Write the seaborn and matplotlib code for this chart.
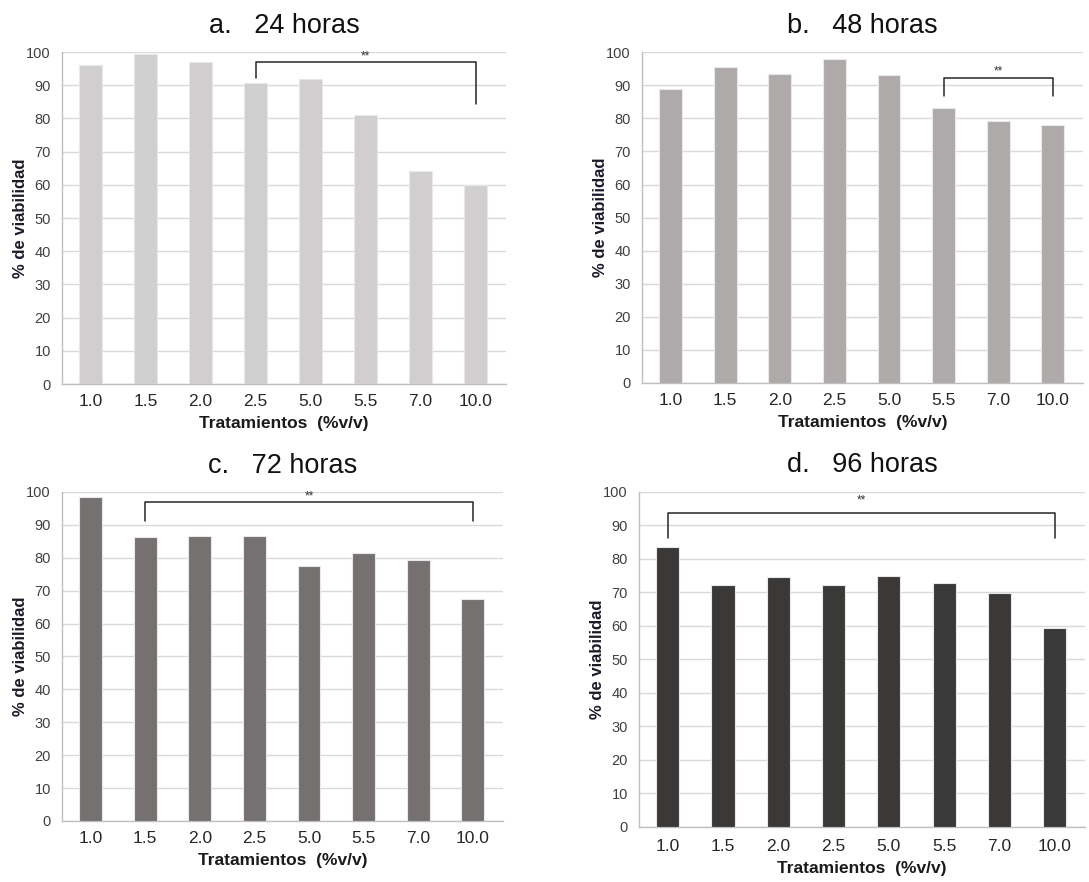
import matplotlib
matplotlib.use("Agg")
import matplotlib.pyplot as plt
import seaborn as sns
import pandas as pd

sns.set_theme(style="white")
plt.rcParams['font.family'] = ['Liberation Sans', 'DejaVu Sans']

categories = ["1.0", "1.5", "2.0", "2.5", "5.0", "5.5", "7.0", "10.0"]
vals_24h = [96.2, 99.3, 96.9, 90.8, 91.9, 80.9, 64.2, 59.8]
vals_48h = [88.8, 95.5, 93.5, 97.8, 93.2, 83.0, 79.2, 77.9]
vals_72h = [98.5, 86.3, 86.7, 86.7, 77.5, 81.4, 79.4, 67.4]
vals_96h = [83.5, 72.1, 74.5, 72.1, 74.8, 72.8, 69.8, 59.3]
titles = ["a.   24 horas", "b.   48 horas", "c.   72 horas", "d.   96 horas"]
colors = ["#D0CECE", "#AEAAAA", "#767171", "#3B3838"]

# bracket annotations: (start category, end category, top y, left tick end, right tick end, star y)
brackets = [
    ("2.5", "10.0", 96.9, 92.3, 84.3, 98.6),
    ("5.5", "10.0", 92.1, 86.9, 86.9, 94.3),
    ("1.5", "10.0", 96.9, 91.1, 91.1, 98.5),
    ("1.0", "10.0", 93.8, 86.1, 86.1, 97.5),
]

positions = [
    [0.0569, 0.5646, 0.4077, 0.3764],
    [0.5895, 0.5658, 0.4050, 0.3750],
    [0.0569, 0.0692, 0.4050, 0.3730],
    [0.5868, 0.0624, 0.4096, 0.3800],
]

fig = plt.figure(figsize=(10.89, 8.82), dpi=100)
series = [vals_24h, vals_48h, vals_72h, vals_96h]

for i, (vals, title, col, br, pos) in enumerate(zip(series, titles, colors, brackets, positions)):
    ax = fig.add_axes(pos)
    df = pd.DataFrame({"Tratamiento": categories, "Viabilidad": vals})
    sns.barplot(data=df, x="Tratamiento", y="Viabilidad", color=col, width=0.42,
                edgecolor="#E8E8E8", linewidth=0.8, saturation=1, ax=ax, zorder=3)
    ax.set_ylim(0, 100)
    ax.set_yticks(range(0, 101, 10))
    ax.set_xlim(-0.52, len(categories) - 0.45)
    ax.yaxis.grid(True, color="#D9D9D9", linewidth=1.0, zorder=0)
    ax.xaxis.grid(False)
    ax.set_axisbelow(True)
    for s in ["top", "right"]:
        ax.spines[s].set_visible(False)
    for s in ["left", "bottom"]:
        ax.spines[s].set_color("#BFBFBF")
        ax.spines[s].set_linewidth(1.0)
    ax.tick_params(axis="y", labelsize=10.5, colors="#404040", length=0, pad=8)
    ax.tick_params(axis="x", labelsize=12.5, colors="#262626", length=0,
                   pad=7 if i < 3 else 9)
    ax.set_ylabel("% de viabilidad", fontsize=12, fontweight="bold", color="#1A1A2A", labelpad=-1)
    ax.set_xlabel("Tratamientos  (%v/v)", fontsize=12.5, fontweight="bold", color="#1A1A1A",
                  labelpad=5)
    ax.set_title(title, fontsize=19.5, color="#111111", pad=14)

    c0, c1, ytop, yl, yr, ystar = br
    x0 = categories.index(c0)
    x1 = categories.index(c1)
    ax.plot([x0, x0, x1, x1], [yl, ytop, ytop, yr], color="#262626", linewidth=1.1,
            zorder=5, clip_on=False)
    ax.text((x0 + x1) / 2, ystar, "**", ha="center", va="center", fontsize=8.5,
            color="#333333", zorder=5)

fig.savefig("out.png", dpi=100)
